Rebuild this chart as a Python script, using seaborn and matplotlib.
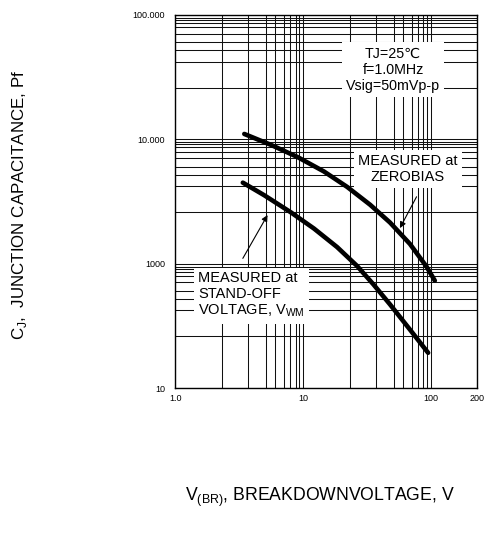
import pandas as pd
import seaborn as sns
import matplotlib.pyplot as plt
from matplotlib.ticker import NullFormatter

# curve: breakdown voltage (V) vs junction capacitance (pF)
zero_v = [3.47, 5.61, 9.04, 14.6, 22.2, 33.6, 48.1, 68.9, 92.9, 107.9]
zero_c = [11040, 9020, 7210, 5510, 4140, 2975, 2140, 1440, 947, 730]
vwm_v = [3.38, 4.97, 8.02, 12.2, 18.5, 26.5, 35.7, 48.1, 68.9, 95.6]
vwm_c = [4480, 3550, 2590, 1915, 1360, 960, 680, 470, 295, 192]

x_major = [1, 10, 100, 230]
x_labels = ['1.0', '10', '100', '200']
y_major = [100, 1000, 10000, 100000]
y_labels = ['10', '1000', '10.000', '100.000']
# the printed grid is not a true log grid, these are where its lines sit inside one decade
x_steps = [2.34, 3.73, 5.14, 6.04, 7.14, 7.94, 8.75, 9.35]
y_steps = [2.60, 4.22, 5.19, 6.03, 7.08, 7.94, 8.61, 9.12, 9.44]

sns.set_style('white')
plt.rcParams['font.family'] = ['Liberation Sans', 'DejaVu Sans']
plt.rcParams['mathtext.fontset'] = 'custom'
plt.rcParams['mathtext.rm'] = 'Liberation Sans'
plt.rcParams['text.color'] = 'black'
plt.rcParams['axes.labelcolor'] = 'black'
plt.rcParams['xtick.color'] = 'black'
plt.rcParams['ytick.color'] = 'black'

df_zero = pd.DataFrame({'V': zero_v, 'C': zero_c})
df_vwm = pd.DataFrame({'V': vwm_v, 'C': vwm_c})

fig = plt.figure(figsize=(4.87, 5.33), dpi=100)
ax = fig.add_axes([0.36, 0.272, 0.619, 0.700])

ax.set_xscale('log')
ax.set_yscale('log')
ax.set_xlim(1, 230)
ax.set_ylim(100, 100000)

ax.set_xticks(x_major)
ax.set_xticklabels(x_labels)
ax.set_yticks(y_major)
ax.set_yticklabels(y_labels)
x_minor = [d * s for d in (1, 10, 100) for s in x_steps if d * s < 230]
y_minor = [d * s for d in (100, 1000, 10000) for s in y_steps]
ax.set_xticks(x_minor, minor=True)
ax.set_yticks(y_minor, minor=True)
ax.xaxis.set_minor_formatter(NullFormatter())
ax.yaxis.set_minor_formatter(NullFormatter())
ax.tick_params(which='both', length=0, labelsize=6.5, labelcolor='black')
ax.tick_params(axis='x', pad=4)
ax.tick_params(axis='y', pad=7.5)
ax.grid(which='both', color='#111111', linewidth=0.75)
ax.set_axisbelow(True)
for s in ax.spines.values():
    s.set_color('black')
    s.set_linewidth(1.0)

sns.lineplot(data=df_zero, x='V', y='C', ax=ax, color='black', linewidth=3.3,
             sort=False, estimator=None, solid_capstyle='round')
sns.lineplot(data=df_vwm, x='V', y='C', ax=ax, color='black', linewidth=3.3,
             sort=False, estimator=None, solid_capstyle='round')

box = dict(boxstyle='square,pad=0.3', facecolor='white', edgecolor='none')
ax.text(50.8, 36100, 'TJ=25\u2103\nf=1.0MHz\nVsig=50mVp-p', fontsize=10.3,
        ha='center', va='center', multialignment='center', linespacing=1.2,
        bbox=box, zorder=5)
ax.text(66.5, 5770, 'MEASURED at\nZEROBIAS', fontsize=10.5, ha='center', va='center',
        multialignment='center', linespacing=1.1, bbox=box, zorder=5)
ax.text(1.51, 559, 'MEASURED at\nSTAND-OFF\nVOLTAGE, V$_{\\mathrm{WM}}$', fontsize=10.5,
        ha='left', va='center', linespacing=1.15, bbox=box, zorder=5)

arrow = dict(arrowstyle='-|>', color='black', lw=0.8, mutation_scale=9,
             shrinkA=0, shrinkB=0)
ax.annotate('', xy=(57.5, 1932), xytext=(77.6, 3450), arrowprops=arrow, zorder=6)
ax.annotate('', xy=(5.28, 2460), xytext=(3.38, 1103), arrowprops=arrow, zorder=6)

ax.set_xlabel('V$_{\\mathrm{(BR)}}$, BREAKDOWNVOLTAGE, V', fontsize=12.7)
ax.set_ylabel('C$_{\\mathrm{J}}$,  JUNCTION CAPACITANCE, Pf', fontsize=12.2)
ax.xaxis.set_label_coords(0.48, -0.262)
ax.yaxis.set_label_coords(-0.485, 0.49)

plt.savefig('out.png', dpi=100)
